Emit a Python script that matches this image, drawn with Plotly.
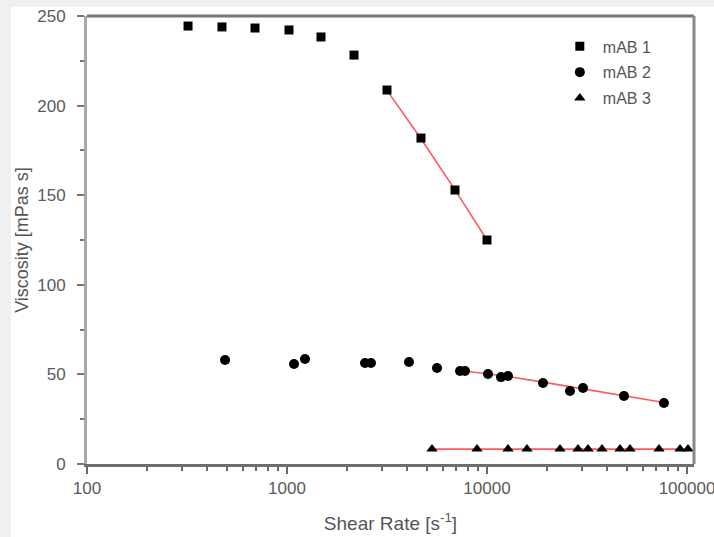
import plotly.graph_objects as go

# ---- data ----
mab1_x = [320, 473, 692, 1023, 1479, 2163, 3162, 4677, 6918, 10000]
mab1_y = [244.4, 243.9, 243.3, 242.2, 238.3, 228.2, 208.7, 181.9, 152.9, 125.0]

mab2_x = [490, 1084, 1230, 2455, 2630, 4074, 5623, 7328, 7762, 10116, 11749,
          12735, 19055, 26000, 30200, 48400, 76700]
mab2_y = [58.0, 55.8, 58.6, 56.4, 56.4, 56.9, 53.6, 51.9, 51.9, 50.2, 48.5,
          49.1, 45.2, 40.7, 42.4, 37.9, 34.0]

mab3_x = [5309, 8913, 12735, 15849, 23174, 28510, 31989, 37584, 46238, 51880,
          72444, 92257, 101158]
mab3_y = [8.4, 8.4, 8.4, 8.4, 8.4, 8.4, 8.4, 8.4, 8.4, 8.4, 8.4, 8.4, 8.4]

fit1_x = [3162, 4677, 6918, 10000]
fit1_y = [208.5, 181.5, 153.0, 125.0]
fit2_x = [7762, 10116, 12735, 19055, 30200, 48400, 76700]
fit2_y = [51.9, 50.3, 48.8, 45.7, 42.0, 38.0, 34.3]
fit3_x = [5309, 101158]
fit3_y = [8.3, 8.3]

series_names = ["mAB 1", "mAB 2", "mAB 3"]
x_tickvals = [100, 1000, 10000, 100000]
x_ticktext = ["100", "1000", "10000", "100000"]
y_tickvals = [0, 50, 100, 150, 200, 250]

# ---- figure ----
FONT = "Liberation Sans, Arial, sans-serif"
RED = "#ff5a5a"

fig = go.Figure()
for fx, fy in [(fit1_x, fit1_y), (fit2_x, fit2_y), (fit3_x, fit3_y)]:
    fig.add_trace(go.Scatter(x=fx, y=fy, mode="lines", showlegend=False,
                             line=dict(color=RED, width=1.6), hoverinfo="skip"))

fig.add_trace(go.Scatter(x=mab1_x, y=mab1_y, mode="markers", name=series_names[0],
                         legendgroup="g1",
                         marker=dict(symbol="square", size=9, color="black")))
fig.add_trace(go.Scatter(x=mab2_x, y=mab2_y, mode="markers", name=series_names[1],
                         legendgroup="g2",
                         marker=dict(symbol="circle", size=10, color="black")))
fig.add_trace(go.Scatter(x=mab3_x, y=mab3_y, mode="markers", name=series_names[2],
                         legendgroup="g3",
                         marker=dict(symbol="triangle-up", size=10, color="black")))

fig.update_layout(
    width=714, height=537,
    margin=dict(l=87, r=20, t=16, b=73),
    paper_bgcolor="white", plot_bgcolor="white",
    font=dict(family=FONT, color="#555555"),
    legend=dict(x=0.774, y=0.97, xanchor="left", yanchor="top",
                bgcolor="rgba(0,0,0,0)", font=dict(size=16, color="#555555"),
                itemwidth=36, tracegroupgap=2),
    showlegend=True,
)

fig.update_xaxes(
    type="log", range=[2, 5.035], automargin=False,
    tickvals=x_tickvals, ticktext=x_ticktext, ticklabeloverflow="allow",
    ticks="outside", ticklen=7, tickwidth=2, tickcolor="#666666",
    minor=dict(ticks="outside", ticklen=4, tickwidth=1.5, tickcolor="#666666",
               dtick="D1", showgrid=False),
    showline=True, linecolor="#6e6e6e", linewidth=3,
    showgrid=False, zeroline=False,
    tickfont=dict(size=17, color="#5a5a5a"),
    title=dict(text="Shear Rate [s<sup>-1</sup>]", font=dict(size=19, color="#555555"),
               standoff=20),
)
fig.update_yaxes(
    range=[0, 250], tickvals=y_tickvals, automargin=False,
    ticks="outside", ticklen=7, tickwidth=2, tickcolor="#777777",
    minor=dict(ticks="outside", ticklen=4, tickwidth=1.5, tickcolor="#777777",
               dtick=25, showgrid=False),
    showline=True, linecolor="#a8a8a8", linewidth=3,
    showgrid=False, zeroline=False,
    ticklabelstandoff=8,
    tickfont=dict(size=17, color="#5a5a5a"),
    title=dict(text="Viscosity [mPas s]", font=dict(size=18, color="#555555"),
               standoff=4),
)

# frame (top and right)
fig.add_shape(type="line", xref="paper", yref="paper", x0=0, x1=1.0, y0=1, y1=1,
              line=dict(color="#777777", width=3))
fig.add_shape(type="line", xref="paper", yref="paper", x0=1, x1=1, y0=0, y1=1,
              line=dict(color="#888888", width=3))
# light grey outer strips (left and top edge of the picture)
fig.add_shape(type="rect", xref="paper", yref="paper", x0=-0.1433, x1=-0.1252,
              y0=-0.2, y1=1.04, line=dict(width=0), fillcolor="#f0f0f0", layer="below")
fig.add_shape(type="rect", xref="paper", yref="paper", x0=-0.1433, x1=1.04,
              y0=1.0201, y1=1.04, line=dict(width=0), fillcolor="#f0f0f0", layer="below")

fig.write_html(
    "out.html",
    config={"displayModeBar": False},
    post_script="document.body.style.margin='0';document.body.style.overflow='hidden';",
)
